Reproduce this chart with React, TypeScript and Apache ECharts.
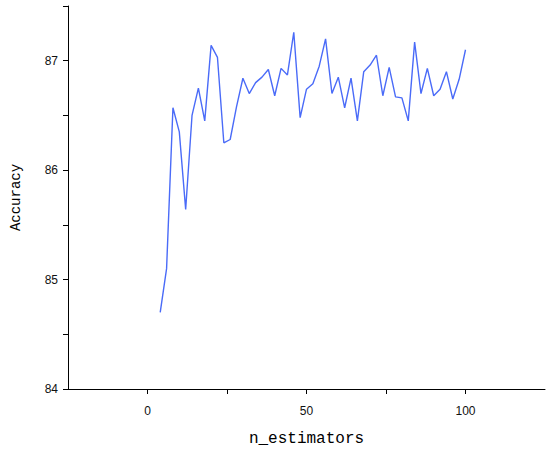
import React, { useEffect, useRef } from "react";
import * as echarts from "echarts";

const nEstimators: number[] = [
  4, 6, 8, 10, 12, 14, 16, 18, 20, 22, 24, 26, 28, 30, 32, 34, 36, 38, 40, 42,
  44, 46, 48, 50, 52, 54, 56, 58, 60, 62, 64, 66, 68, 70, 72, 74, 76, 78, 80, 82,
  84, 86, 88, 90, 92, 94, 96, 98, 100,
];
const accuracy: number[] = [
  84.7, 85.1, 86.57, 86.35, 85.64, 86.5, 86.75, 86.45, 87.14, 87.03, 86.25, 86.28,
  86.58, 86.84, 86.7, 86.8, 86.85, 86.92, 86.68, 86.93, 86.87, 87.26, 86.48, 86.74,
  86.79, 86.95, 87.2, 86.7, 86.85, 86.57, 86.84, 86.45, 86.9, 86.96, 87.05, 86.68,
  86.94, 86.67, 86.66, 86.45, 87.17, 86.7, 86.93, 86.68, 86.74, 86.9, 86.65, 86.83,
  87.1,
];
const xLabels: number[] = [0, 50, 100];
const yLabels: number[] = [84, 85, 86, 87];

export default function App() {
  const ref = useRef<HTMLDivElement>(null);
  useEffect(() => {
    if (!ref.current) return;
    const chart = echarts.init(ref.current, undefined, { renderer: "svg" });
    const axisLine = { show: true, onZero: false, lineStyle: { color: "#000", width: 1 } };
    chart.setOption({
      animation: false,
      backgroundColor: "#fff",
      grid: { left: 68, right: 5, top: 6, bottom: 62, containLabel: false },
      xAxis: {
        type: "value",
        min: -25,
        max: 125,
        interval: 25,
        axisLine,
        axisTick: { show: true, length: 5, inside: false, lineStyle: { color: "#000" } },
        splitLine: { show: false },
        axisLabel: {
          margin: 16,
          fontFamily: "Liberation Sans",
          fontSize: 12,
          color: "#111",
          showMinLabel: false,
          showMaxLabel: false,
          formatter: (v: number) => (xLabels.includes(v) ? String(v) : ""),
        },
        name: "n_estimators",
        nameLocation: "middle",
        nameGap: 42,
        nameTextStyle: { fontFamily: "Liberation Mono", fontSize: 16, color: "#000" },
      },
      yAxis: {
        type: "value",
        min: 84,
        max: 87.5,
        interval: 0.5,
        axisLine,
        axisTick: { show: true, length: 5, inside: false, lineStyle: { color: "#000" } },
        splitLine: { show: false },
        axisLabel: {
          margin: 10,
          fontFamily: "Liberation Sans",
          fontSize: 12,
          color: "#111",
          formatter: (v: number) => (yLabels.includes(v) ? String(v) : ""),
        },
        name: "Accuracy",
        nameLocation: "middle",
        nameGap: 45,
        nameRotate: 90,
        nameTextStyle: { fontFamily: "Liberation Mono", fontSize: 14, color: "#000" },
      },
      series: [
        {
          type: "line",
          data: nEstimators.map((n, i) => [n, accuracy[i]]),
          showSymbol: false,
          symbol: "none",
          lineStyle: { color: "#4a6bf8", width: 1.4 },
        },
      ],
    });
    return () => chart.dispose();
  }, []);
  return <div ref={ref} style={{ width: 550, height: 452, position: "absolute", left: 0, top: 0 }} />;
}
